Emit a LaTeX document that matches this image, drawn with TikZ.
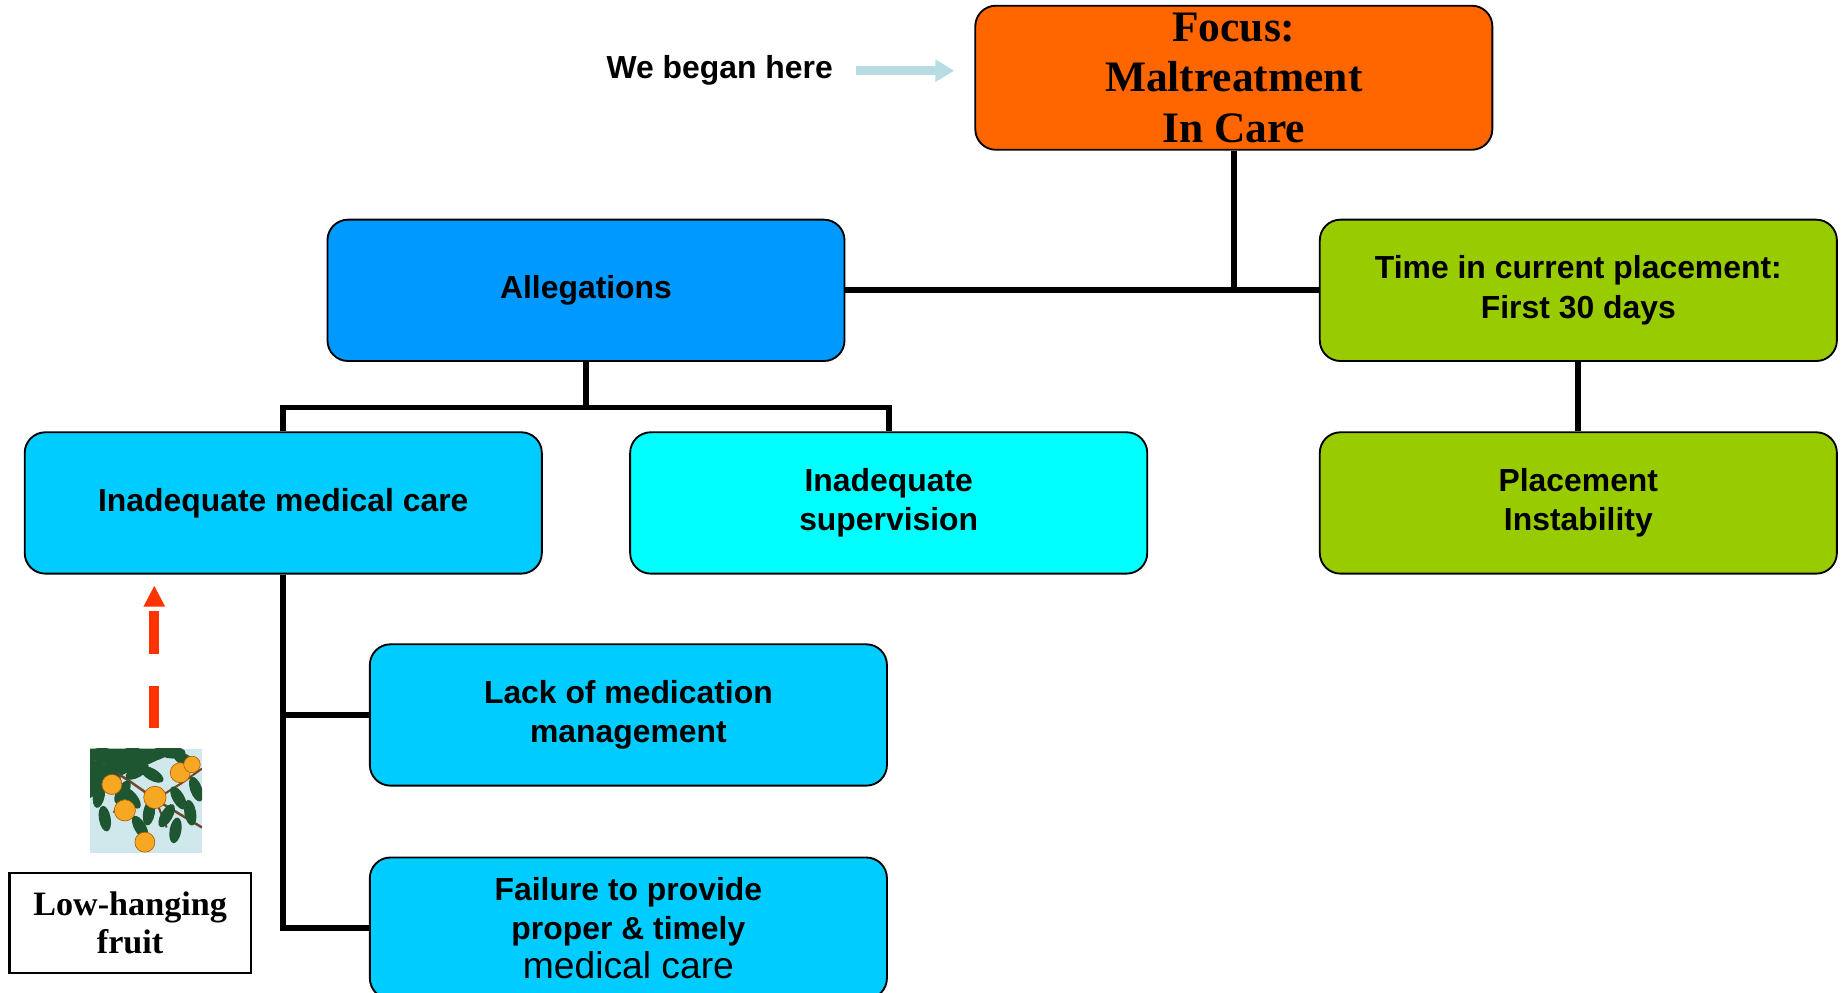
\documentclass[tikz,border=0pt]{standalone}
\usepackage{fontspec}
\setmainfont{Liberation Serif}
\setsansfont{Liberation Sans}
\usetikzlibrary{positioning,arrows.meta}

\definecolor{focusOrange}{HTML}{FF6600}
\definecolor{allegBlue}{HTML}{0099FF}
\definecolor{careBlue}{HTML}{00CCFF}
\definecolor{supCyan}{HTML}{00FFFF}
\definecolor{placeGreen}{HTML}{99CC00}
\definecolor{paleArrow}{HTML}{B7DDE3}
\definecolor{fruitRed}{HTML}{FF3300}
\definecolor{skyPale}{HTML}{CFE8EC}
\definecolor{leafGreen}{HTML}{1E5631}
\definecolor{fruitOrange}{HTML}{F7A823}
\definecolor{twigBrown}{HTML}{6B4A2E}

\begin{document}
\begin{tikzpicture}[x=1cm, y=1cm,
    % --- Styles ---
    treeBlock/.style={
      draw=black,
      line width=0.9pt,
      rectangle,
      rounded corners=0.35cm,
      minimum width=8.78cm,
      minimum height=2.4cm,
      align=center,
      font=\sffamily\bfseries\fontsize{15.4}{19}\selectfont
    },
    branchLine/.style={
      line width=2.8pt
    },
    noteBox/.style={
      draw=black,
      line width=1.1pt,
      rectangle,
      minimum width=4.1cm,
      minimum height=1.7cm,
      align=center,
      font=\rmfamily\bfseries\fontsize{16.5}{18}\selectfont
    },
    orangeFruit/.style={
      fill=fruitOrange,
      draw=orange!70!black,
      line width=0.3pt
    }
]

\clip (0,0) rectangle (31.26,-16.86);

%=====================
% Top: focus and the note beside it
%=====================
\node[treeBlock, fill=focusOrange, font=\rmfamily\bfseries\fontsize{21}{24.5}\selectfont] (focus) at (20.95,-1.32) {Focus:\\Maltreatment\\In Care};
\node[font=\sffamily\bfseries\fontsize{15.4}{19}\selectfont, inner sep=0pt] (began) at (12.22,-1.2) {We began here};
\draw[paleArrow, line width=0.16cm, -{Triangle[width=0.36cm, length=0.32cm]},
      shorten <=0.38cm, shorten >=0.34cm] (began.east) -- (began.east -| focus.west);

%=====================
% Row 2: allegations and time in placement
%=====================
\node[treeBlock, fill=allegBlue] (alleg) at (9.95,-4.93) {Allegations};
\node[treeBlock, fill=placeGreen] (timePlace) at (26.8,-4.93) {Time in current placement:\\First 30 days};
\draw[branchLine] (alleg.east) -- (timePlace.west);
\draw[branchLine] (focus.south) -- (focus.south |- alleg.east);

%=====================
% Row 3: kinds of allegation, instability
%=====================
\node[treeBlock, fill=careBlue] (medCare) at (4.81,-8.54) {Inadequate medical care};
\node[treeBlock, fill=supCyan] (superv) at (15.09,-8.54) {Inadequate\\supervision};
\node[treeBlock, fill=placeGreen] (instab) at (26.8,-8.54) {Placement\\Instability};
\coordinate (allegSplit) at (9.95,-6.92);
\draw[branchLine] (alleg.south) -- (allegSplit);
\draw[branchLine] (medCare.north) |- (allegSplit) -| (superv.north);
\draw[branchLine] (timePlace.south) -- (instab.north);

%=====================
% Rows 4-5: under medical care
%=====================
\node[treeBlock, fill=careBlue] (lackMed) at (10.67,-12.14) {Lack of medication\\management};
\node[treeBlock, fill=careBlue] (failCare) at (10.67,-15.76) {Failure to provide\\proper \& timely\\{\mdseries\fontsize{18}{20}\selectfont medical care}};
\draw[branchLine] (medCare.south) |- (lackMed.west);
\draw[branchLine] (medCare.south) |- (failCare.west);

%=====================
% Low-hanging fruit
%=====================
\node[fill=skyPale, minimum width=1.9cm, minimum height=1.78cm, inner sep=0pt] (fruit) at (2.48,-13.6) {};
\begin{scope}[shift={(fruit.center)}]
  \clip (-0.95,-0.89) rectangle (0.95,0.89);
  % dark foliage at the top
  \fill[leafGreen] (-0.95,0.89) -- (0.45,0.89) .. controls (0.2,0.6) and (-0.3,0.55) .. (-0.55,0.35)
    .. controls (-0.75,0.2) and (-0.85,0.1) .. (-0.95,0.05) -- cycle;
  % branches
  \draw[twigBrown, line width=1.2pt] (-0.95,0.75) -- (-0.3,0.35) -- (0.2,0.0) -- (0.95,-0.45);
  \draw[twigBrown, line width=1pt] (0.15,0.05) -- (0.35,-0.45);
  \draw[twigBrown, line width=1pt] (0.2,0.05) -- (0.6,0.3) -- (0.95,0.55);
  \draw[twigBrown, line width=0.8pt] (-0.35,0.3) -- (-0.55,-0.2);
  % leaves
  \foreach \lx/\ly/\ang in {-0.8/0.8/10, -0.55/0.75/-20, -0.3/0.8/15, -0.05/0.78/-10,
      0.2/0.8/20, 0.45/0.82/0, -0.85/0.5/70, -0.6/0.45/-40, -0.15/0.5/30,
      0.1/0.45/-30, -0.4/0.15/60, -0.8/0.1/80, -0.7/-0.3/100, 0.55/0.05/-60,
      0.75/-0.2/-80, 0.85/0.2/-70, 0.35/-0.25/60, -0.1/-0.45/120, 0.5/-0.5/-100,
      0.65/0.7/-30, -0.25/0.05/-50, 0.05/-0.2/80}
    \fill[leafGreen, rotate around={\ang:(\lx,\ly)}] (\lx,\ly) ellipse (0.22 and 0.1);
  % fruits
  \foreach \fx/\fy/\fr in {-0.58/0.28/0.17, 0.15/0.06/0.19, 0.58/0.48/0.17,
      0.78/0.62/0.14, -0.36/-0.16/0.18, -0.02/-0.7/0.17}
    \filldraw[orangeFruit] (\fx,\fy) circle (\fr);
\end{scope}
\coordinate (fruitArrowFoot) at (2.62,-12.36);
\coordinate (fruitArrowTip) at (2.62,-9.94);
\draw[fruitRed, line width=0.17cm, dash pattern=on 0.72cm off 0.54cm,
      -{Triangle[width=0.34cm, length=0.36cm]}] (fruitArrowFoot) -- (fruitArrowTip);
\node[noteBox] (lowFruit) at (2.21,-15.67) {Low-hanging\\fruit};

\end{tikzpicture}
\end{document}
